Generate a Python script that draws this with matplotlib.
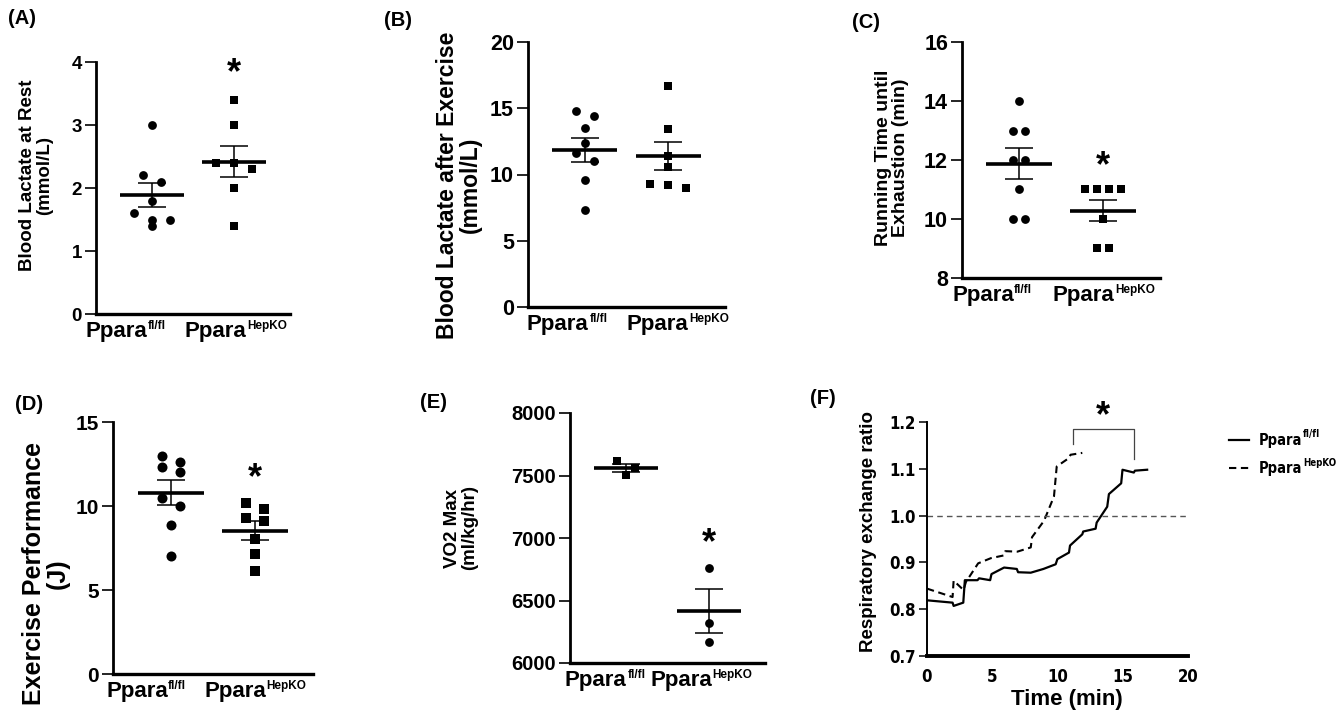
# Ppara fl/fl vs HepKO: lactate, running time, performance, VO2max, RER
import numpy as np
import matplotlib
matplotlib.use('Agg')
import matplotlib.pyplot as plt
from matplotlib import font_manager
from matplotlib.font_manager import FontProperties

## Fonts
plt.rcParams['font.family'] = ['Liberation Sans', 'DejaVu Sans']
plt.rcParams['font.weight'] = 'bold'
plt.rcParams['axes.labelweight'] = 'bold'


def find_narrow():
    # a condensed bold face if one is installed, else plain Liberation Sans bold
    cands = [f for f in font_manager.fontManager.ttflist
             if 'Narrow' in f.name or 'Condensed' in f.name
             or f.stretch in ('condensed', 'semi-condensed', 'extra-condensed')]
    bold = [f for f in cands if str(f.weight) in ('bold', '700')]
    pick = (bold or cands)
    if pick:
        return FontProperties(fname=pick[0].fname)
    return FontProperties(family='Liberation Sans', weight='bold')


narrow = find_narrow()

## Data
grp_main = 'Ppara'
grp_sup = ['fl/fl', 'HepKO']

lact_rest_fl = [3.0, 2.2, 2.1, 1.8, 1.6, 1.5, 1.5, 1.4]
lact_rest_ko = [3.4, 3.0, 2.4, 2.4, 2.3, 2.0, 1.4]

lact_ex_fl = [14.8, 14.4, 13.5, 12.4, 11.6, 11.0, 9.6, 7.3]
lact_ex_ko = [16.7, 13.4, 11.4, 10.6, 9.3, 9.2, 9.0]

run_time_fl = [14, 13, 13, 12, 12, 11, 10, 10]
run_time_ko = [11, 11, 11, 11, 10, 9, 9]

perf_fl = [13.0, 12.6, 12.3, 12.0, 10.45, 10.0, 8.86, 7.04]
perf_ko = [10.15, 9.83, 9.31, 9.1, 8.02, 7.13, 6.14]

vo2_fl = [7613, 7560, 7501]
vo2_ko = [6760, 6320, 6165]

# RER time courses
t_fl = [0, 1.96, 2.04, 2.78, 2.9, 3.87, 3.99, 4.84, 4.94, 5.91, 6.88, 6.98, 7.95,
        8.92, 9.86, 9.99, 10.88, 10.96, 11.9, 11.97, 12.92, 13.0, 13.81, 13.94,
        14.88, 14.98, 15.85, 15.93, 16.87]
rer_fl = [0.819, 0.814, 0.807, 0.814, 0.862, 0.862, 0.866, 0.862, 0.875, 0.889, 0.886,
          0.879, 0.878, 0.886, 0.896, 0.907, 0.921, 0.936, 0.960, 0.966, 0.972, 0.985,
          1.019, 1.046, 1.069, 1.098, 1.092, 1.096, 1.098]
t_ko = [0, 1.96, 2.04, 2.8, 2.98, 3.92, 4.89, 5.9, 6.0, 6.93, 7.95, 8.05, 8.97, 9.73,
        9.94, 10.88, 11.0, 11.9]
rer_ko = [0.844, 0.826, 0.861, 0.841, 0.858, 0.898, 0.909, 0.915, 0.924, 0.923, 0.932,
          0.954, 0.989, 1.041, 1.105, 1.123, 1.130, 1.134]
bracket_t = [11.2, 15.85]
bracket_rer = [1.184, 1.154, 1.121]

## Figure
W, H = 1343, 710
fig = plt.figure(figsize=(W / 100, H / 100), dpi=100)
renderer = fig.canvas.get_renderer()


def make_ax(l, t, r, b):
    return fig.add_axes([l / W, 1 - b / H, (r - l) / W, (b - t) / H])


def swarm(ax, vals, x0, d_px, thr_px=10):
    # simple beeswarm: points closer than thr_px in y are spread sideways
    bb = ax.get_window_extent()
    y0, y1 = ax.get_ylim()
    x_a, x_b = ax.get_xlim()
    py = bb.height / (y1 - y0)
    px = bb.width / (x_b - x_a)
    vals = np.asarray(vals, float)
    order = np.argsort(-vals, kind='stable')
    xs = np.zeros(len(vals))
    grp = []
    for i in list(order) + [None]:
        if i is not None and grp and (vals[grp[0]] - vals[i]) * py < thr_px:
            grp.append(i)
            continue
        n = len(grp)
        for k, j in enumerate(grp):
            xs[j] = x0 + (k - (n - 1) / 2) * d_px / px
        grp = [i] if i is not None else []
    return xs


def sup_label(x, y, main, sup, fs=16, fs_sup=8.5):
    # "Ppara" with a small superscript, x/y = left/top in pixels
    t = fig.text(x / W, 1 - y / H, main, va='top', ha='left', fontsize=fs,
                 fontweight='bold')
    bb = t.get_window_extent(renderer)
    fig.text((bb.x1 + 0.5) / W, 1 - (y - 1) / H, sup, va='top', ha='left',
             fontsize=fs_sup, fontweight='bold')


def dot_panel(ax, fl, ko, mk, ylim, yticks, lefts, d_px=18, fs_tick=13, ms=(40, 34)):
    ax.set_xlim(-0.68, 1.68)
    ax.set_ylim(*ylim)
    for x0, vals, m, s in [(0, fl, mk[0], ms[0]), (1, ko, mk[1], ms[1])]:
        vals = np.asarray(vals, float)
        mean = vals.mean()
        sem = vals.std(ddof=1) / np.sqrt(len(vals))
        ax.hlines(mean, x0 - 0.39, x0 + 0.39, color='k', lw=2.6, zorder=3)
        ax.errorbar(x0, mean, yerr=sem, color='k', lw=1.1, capsize=10, capthick=1.1,
                    zorder=2)
        xs = swarm(ax, vals, x0, d_px)
        ax.scatter(xs, vals, marker=m, s=s, color='k', zorder=4, linewidths=0)
    ax.set_yticks(yticks)
    ax.set_xticks([])
    ax.tick_params(axis='y', length=8, width=1.2, pad=2, labelsize=fs_tick)
    for sp in ['top', 'right']:
        ax.spines[sp].set_visible(False)
    ax.spines['left'].set_linewidth(2.0)
    ax.spines['bottom'].set_linewidth(2.4)
    bottom_px = H - ax.get_window_extent().y0
    for left, sup in zip(lefts, grp_sup):
        sup_label(left, bottom_px + 7, grp_main, sup)


def star(ax, x, y, fs=26):
    # y is where the asterisk ink should sit; the glyph rides high in its box
    ax.annotate('*', (x, y), xytext=(0, -7), textcoords='offset pixels', ha='center',
                va='center', fontsize=fs, fontweight='bold', annotation_clip=False)


# (A)
axA = make_ax(96, 62, 290, 314)
dot_panel(axA, lact_rest_fl, lact_rest_ko, ('o', 's'), (0, 4), [0, 1, 2, 3, 4],
          (86, 185), fs_tick=13.5)
axA.set_ylabel('Blood Lactate at Rest\n(mmol/L)', fontsize=13.5, linespacing=1.0)
axA.yaxis.set_label_coords(-0.222, 0.55)
star(axA, 1, 3.92)

# (B)
axB = make_ax(528, 42, 725, 307)
dot_panel(axB, lact_ex_fl, lact_ex_ko, ('o', 's'), (0, 20), [0, 5, 10, 15, 20],
          (527, 627), fs_tick=15.5)
axB.set_ylabel('Blood Lactate after Exercise\n(mmol/L)', fontsize=16.5, linespacing=1.0)
axB.yaxis.set_label_coords(-0.234, 0.46)

# (C)
axC = make_ax(962, 42, 1160, 278)
dot_panel(axC, run_time_fl, run_time_ko, ('o', 's'), (8, 16), [8, 10, 12, 14, 16],
          (952, 1053), d_px=12, fs_tick=15.5)
axC.set_ylabel('Running Time until\nExhaustion (min)', fontsize=14, linespacing=1.0)
axC.yaxis.set_label_coords(-0.27, 0.51)
star(axC, 1, 12.02)

# (D)
axD = make_ax(113, 422, 313, 674)
dot_panel(axD, perf_fl, perf_ko, ('o', 's'), (0, 15), [0, 5, 10, 15],
          (106, 204), fs_tick=15, ms=(52, 42))
axD.set_ylabel('Exercise Performance\n(J)', fontsize=18, linespacing=1.0)
axD.yaxis.set_label_coords(-0.215, 0.40)
star(axD, 1, 12.03)

# (E)
axE = make_ax(570, 413, 765, 663)
dot_panel(axE, vo2_fl, vo2_ko, ('s', 'o'), (6000, 8000), [6000, 6500, 7000, 7500, 8000],
          (565, 650), fs_tick=14.5, ms=(36, 40))
axE.set_ylabel('VO2 Max\n(ml/kg/hr)', fontsize=13.5, linespacing=1.0)
axE.yaxis.set_label_coords(-0.47, 0.54)
star(axE, 1, 7013)

# (F)
axF = make_ax(927, 422, 1188, 656)
l1, = axF.plot(t_fl, rer_fl, color='k', lw=1.6)
l2, = axF.plot(t_ko, rer_ko, color='k', lw=1.5, dashes=(3.5, 2.2))
axF.axhline(1.0, color='#555555', lw=1.0, dashes=(4, 3))
axF.plot([bracket_t[0], bracket_t[0], bracket_t[1], bracket_t[1]],
         [bracket_rer[1], bracket_rer[0], bracket_rer[0], bracket_rer[2]],
         color='#444444', lw=0.9, clip_on=False)
star(axF, np.mean(bracket_t) - 0.05, 1.226)
axF.set_xlim(0, 20)
axF.set_ylim(0.7, 1.2)
axF.set_xticks([0, 5, 10, 15, 20])
axF.set_yticks([0.7, 0.8, 0.9, 1.0, 1.1, 1.2])
axF.set_yticklabels(['0.7', '0.8', '0.9', '1.0', '1.1', '1.2'])
axF.tick_params(axis='x', length=0, pad=9)
axF.tick_params(axis='y', length=6, width=1.1, pad=2)
for lbl in axF.get_xticklabels() + axF.get_yticklabels():
    lbl.set_fontproperties(narrow)
    lbl.set_fontsize(12)
for sp in ['top', 'right']:
    axF.spines[sp].set_visible(False)
axF.spines['left'].set_linewidth(1.4)
axF.spines['bottom'].set_linewidth(2.8)
axF.set_ylabel('Respiratory exchange ratio', fontsize=13.5)
axF.yaxis.set_label_coords(-0.19, 0.53)
axF.set_xlabel('Time (min)', fontsize=16)
axF.xaxis.set_label_coords(0.536, -0.142)

leg = fig.legend([l1, l2], [grp_main, grp_main], loc='upper left',
                 bbox_to_anchor=(1216 / W, 1 - 420 / H), frameon=False,
                 prop=narrow, handlelength=1.5, handletextpad=0.7, labelspacing=0.95)
for txt in leg.get_texts():
    txt.set_fontsize(10.5)
fig.canvas.draw()
for txt, sup in zip(leg.get_texts(), grp_sup):
    bb = txt.get_window_extent(renderer)
    t2 = fig.text((bb.x1 + 0.5) / W, (bb.y1 + 3) / H, sup, va='top', ha='left',
                  fontproperties=narrow)
    t2.set_fontsize(7)

## Panel letters
for lab, x, y in [('(A)', 8, 19), ('(B)', 384, 20), ('(C)', 852, 22),
                  ('(D)', 15, 404), ('(E)', 420, 403), ('(F)', 810, 398)]:
    fig.text(x / W, 1 - y / H, lab, fontsize=14.5, fontweight='bold', va='center')

fig.savefig('out.png', dpi=100)
